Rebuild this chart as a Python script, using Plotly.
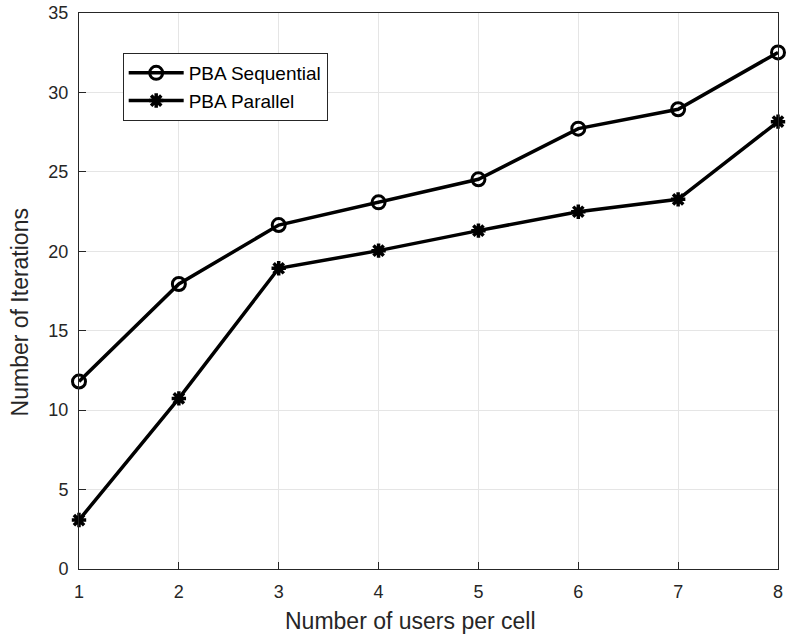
import plotly.graph_objects as go

users = [1, 2, 3, 4, 5, 6, 7, 8]
pba_sequential = [11.8, 17.94, 21.65, 23.08, 24.53, 27.72, 28.94, 32.52]
pba_parallel = [3.08, 10.74, 18.93, 20.04, 21.3, 22.49, 23.27, 28.16]
y_ticks = [0, 5, 10, 15, 20, 25, 30, 35]
x_title = "Number of users per cell"
y_title = "Number of Iterations"

FONT = "Liberation Sans, Arial, Helvetica, sans-serif"
TXT = "#262626"

fig = go.Figure()
fig.add_trace(go.Scatter(
    x=users, y=pba_sequential, mode="lines+markers", name="PBA Sequential",
    line=dict(color="black", width=3.5),
    marker=dict(symbol="circle-open", size=13, color="black", line=dict(width=3, color="black")),
    cliponaxis=False,
))
fig.add_trace(go.Scatter(
    x=users, y=pba_parallel, mode="lines+markers", name="PBA Parallel",
    line=dict(color="black", width=3.5),
    marker=dict(symbol="asterisk-open", size=12, color="black", line=dict(width=3.5, color="black")),
    cliponaxis=False,
))

axis_common = dict(
    showgrid=True, gridcolor="#e5e5e5", gridwidth=1,
    showline=True, linecolor=TXT, linewidth=1, mirror=True,
    ticks="inside", ticklen=7, tickcolor=TXT,
    tickfont=dict(family=FONT, size=18, color=TXT),
    zeroline=False, ticklabeloverflow="allow",
)

L, R, T, B = 79, 3, 13, 69
W, H = 786, 638
pw, ph = W - L - R, H - T - B

fig.update_layout(
    width=W, height=H,
    margin=dict(l=L, r=R, t=T, b=B),
    paper_bgcolor="white", plot_bgcolor="white",
    font=dict(family=FONT, color=TXT),
    xaxis=dict(range=[1, 8], tickvals=users, ticktext=[str(u) for u in users],
               ticklabelstandoff=6, **axis_common),
    yaxis=dict(range=[0, 35], tickvals=y_ticks, ticktext=[str(t) for t in y_ticks],
               ticklabelstandoff=6, **axis_common),
    legend=dict(
        x=(123 - L) / pw, y=1 - (53 - T) / ph, xanchor="left", yanchor="top",
        bgcolor="white", bordercolor=TXT, borderwidth=1,
        font=dict(family=FONT, size=19, color="black"), tracegroupgap=0,
        itemwidth=55,
    ),
    showlegend=True,
    annotations=[
        dict(text=x_title, xref="paper", yref="paper",
             x=(413 - L) / pw, y=(H - B - 621) / ph, xanchor="center", yanchor="middle",
             showarrow=False, font=dict(family=FONT, size=23, color=TXT)),
        dict(text=y_title, xref="paper", yref="paper", textangle=-90,
             x=(20 - L) / pw, y=(H - B - 312) / ph, xanchor="center", yanchor="middle",
             showarrow=False, font=dict(family=FONT, size=23, color=TXT)),
    ],
)

fig.write_html("out.html")
